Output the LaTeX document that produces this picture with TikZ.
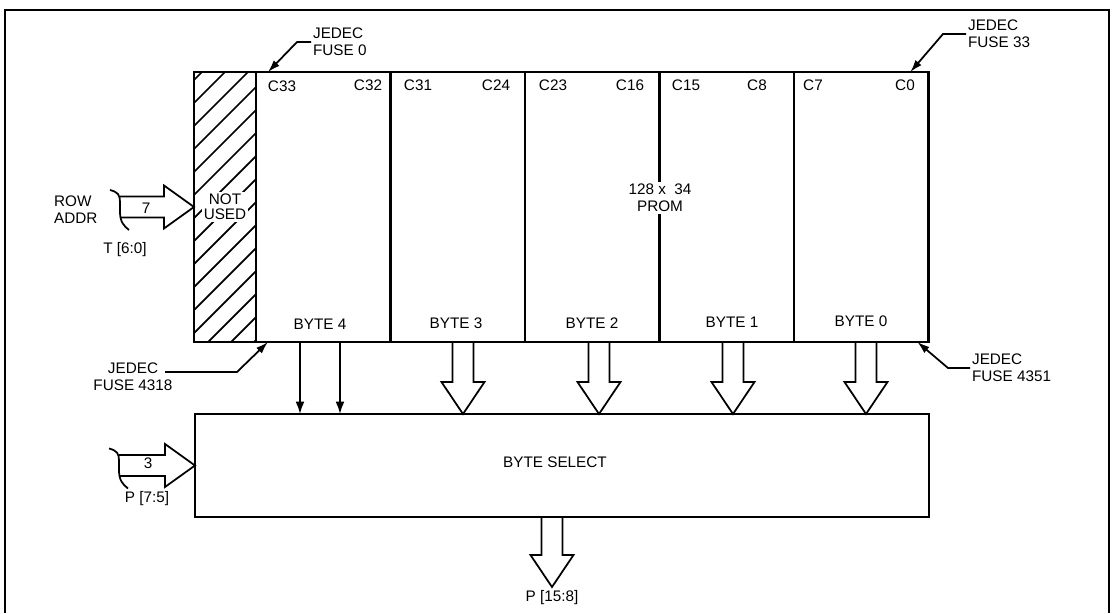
\documentclass[tikz,border=0pt]{standalone}
\usepackage{fontspec}
\setmainfont{Liberation Sans}
\usetikzlibrary{arrows.meta, positioning, calc}

\newcommand{\figfont}{\fontsize{8.7}{9.6}\selectfont}
% wide bus arrow pointing down, #1 = shaft start, #2 = tip
\newcommand{\busdown}[2]{%
  \draw[bus] ($(#1)+(-10.5,0)$) -- ($(#2)+(-10.5,-32)$) -- ($(#2)+(-21.5,-32)$) -- (#2)
    -- ($(#2)+(21.5,-32)$) -- ($(#2)+(10.5,-32)$) -- ($(#1)+(10.5,0)$);}
% wide bus arrow pointing right with a curled tail, #1 = shaft start, #2 = tip
\newcommand{\busright}[2]{%
  \draw[bus] ($(#1)+(0,-10.5)$) -- ($(#2)+(-30,-10.5)$) -- ($(#2)+(-30,-21.5)$) -- (#2)
    -- ($(#2)+(-30,21.5)$) -- ($(#2)+(-30,10.5)$) -- ($(#1)+(0,10.5)$);
  \draw[bus] ($(#1)+(-10,-17)$) .. controls ($(#1)+(-2,-15)$) and ($(#1)+(0,-12)$) .. ($(#1)+(0,-5)$)
    -- ($(#1)+(0,5)$) .. controls ($(#1)+(0,15)$) and ($(#1)+(4,19)$) .. ($(#1)+(9,23)$);}

\begin{document}
\begin{tikzpicture}[
    x=0.02cm, y=-0.02cm,
    lbl/.style={font=\figfont, inner sep=1pt},
    column/.style={rectangle, draw, line width=1.3pt, inner sep=0pt, outer sep=0pt, minimum width=2.69cm, minimum height=5.4cm},
    selbox/.style={rectangle, draw, line width=1.3pt, inner sep=0pt, outer sep=0pt, minimum width=14.68cm, minimum height=2.06cm, font=\figfont},
    bus/.style={line width=1pt, line join=miter},
    wire/.style={line width=1pt, -{Latex[length=7pt, width=5pt]}},
    lead/.style={line width=1pt, -{Latex[length=7pt, width=4.5pt]}},
]
\useasboundingbox (0,0) rectangle (1117,613);
\draw[line width=1.1pt] (5,613) -- (5,10) -- (1109,10) -- (1109,613);

% PROM columns
\node[column, minimum width=1.24cm, anchor=north west] (unused) at (194,72) {};
\node[column, anchor=north west] (col4) at (256,72) {};
\node[column, right=0pt of col4] (col3) {};
\node[column, right=0pt of col3] (col2) {};
\node[column, right=0pt of col2] (col1) {};
\node[column, right=0pt of col1] (col0) {};

% hatching of the unused column
\begin{scope}
  \clip (unused.north west) rectangle (unused.south east);
  \foreach \i in {0,...,15}
    \draw[line width=1pt] (194,80+23*\i) -- ++(70,-70);
\end{scope}
\draw[line width=1.3pt] (unused.north west) rectangle (unused.south east);
\node[fill=white, inner sep=1pt, align=center, font=\fontsize{8.7}{8.6}\selectfont] (nu) at (225,207) {NOT\\USED};

% column labels
\node[lbl] (c33) at (282,86) {C33};
\node[lbl] (c32) at (368,85) {C32};
\node[lbl] (c31) at (418,85) {C31};
\node[lbl] (c24) at (496,85) {C24};
\node[lbl] (c23) at (553,85) {C23};
\node[lbl] (c16) at (630,85) {C16};
\node[lbl] (c15) at (686,85) {C15};
\node[lbl] (c8) at (757,85) {C8};
\node[lbl] (c7) at (813,85) {C7};
\node[lbl] (c0) at (905,85) {C0};

\node[lbl] (byte4) at (320,324) {BYTE 4};
\node[lbl] (byte3) at (456,323) {BYTE 3};
\node[lbl] (byte2) at (592,323) {BYTE 2};
\node[lbl] (byte1) at (732,322) {BYTE 1};
\node[lbl] (byte0) at (861,321) {BYTE 0};

\node[lbl, fill=white, align=center] (prom) at (660,198) {128 x\ \ 34\\PROM};

% byte select
\node[selbox, anchor=north west] (sel) at (195,414) {};
\node[lbl] (seltext) at (555,462) {BYTE SELECT};

% byte outputs
\coordinate (b4a) at (300,342);
\coordinate (b4b) at (340,342);
\draw[wire] (b4a) -- (b4a |- sel.north);
\draw[wire] (b4b) -- (b4b |- sel.north);
\foreach \c/\x in {col3/463, col2/599, col1/733, col0/866} {
  \coordinate (\c top) at (\x,342);
  \coordinate (\c tip) at (\c top |- sel.north);
  \busdown{\c top}{\c tip}
}

% output bus
\coordinate (outtop) at (552,517);
\coordinate (outtip) at (552,587);
\busdown{outtop}{outtip}
\node[lbl, below=1pt of outtip] (pout) {P [15:8]};

% row address input
\coordinate (rowtip) at (unused.west);
\coordinate (rowstart) at (120,207);
\busright{rowstart}{rowtip}
\node[lbl] (seven) at (146,208) {7};
\node[lbl, align=left, anchor=west] (rowaddr) at (52,210) {ROW\\ADDR};
\node[lbl] (tin) at (125,250) {T [6:0]};

% byte select input
\coordinate (ptip) at (sel.west);
\coordinate (pstart) at (119,465.5);
\busright{pstart}{ptip}
\node[lbl] (three) at (148,463) {3};
\node[lbl] (pin) at (147,499) {P [7:5]};

% JEDEC fuse markers
\node[lbl, align=left, anchor=west] (fuse0) at (311,42) {JEDEC\\FUSE 0};
\draw[lead] (fuse0.west) -- ++(-14,0) -- ([xshift=0.24cm]col4.north west);
\node[lbl, align=left, anchor=west] (fuse33) at (966,34) {JEDEC\\FUSE 33};
\draw[lead] (fuse33.west) -- ++(-23,0) -- ([xshift=-0.36cm]col0.north east);
\node[lbl, align=center] (fuse4318) at (133,377) {JEDEC\\FUSE 4318};
\coordinate (l4318) at (165,372);
\draw[lead] (l4318) -- (237,372) -- ([xshift=0.24cm]col4.south west);
\node[lbl, align=left, anchor=west] (fuse4351) at (970,368) {JEDEC\\FUSE 4351};
\draw[lead] (fuse4351.west) -- ++(-22,0) -- ([xshift=-0.22cm]col0.south east);
\end{tikzpicture}
\end{document}
